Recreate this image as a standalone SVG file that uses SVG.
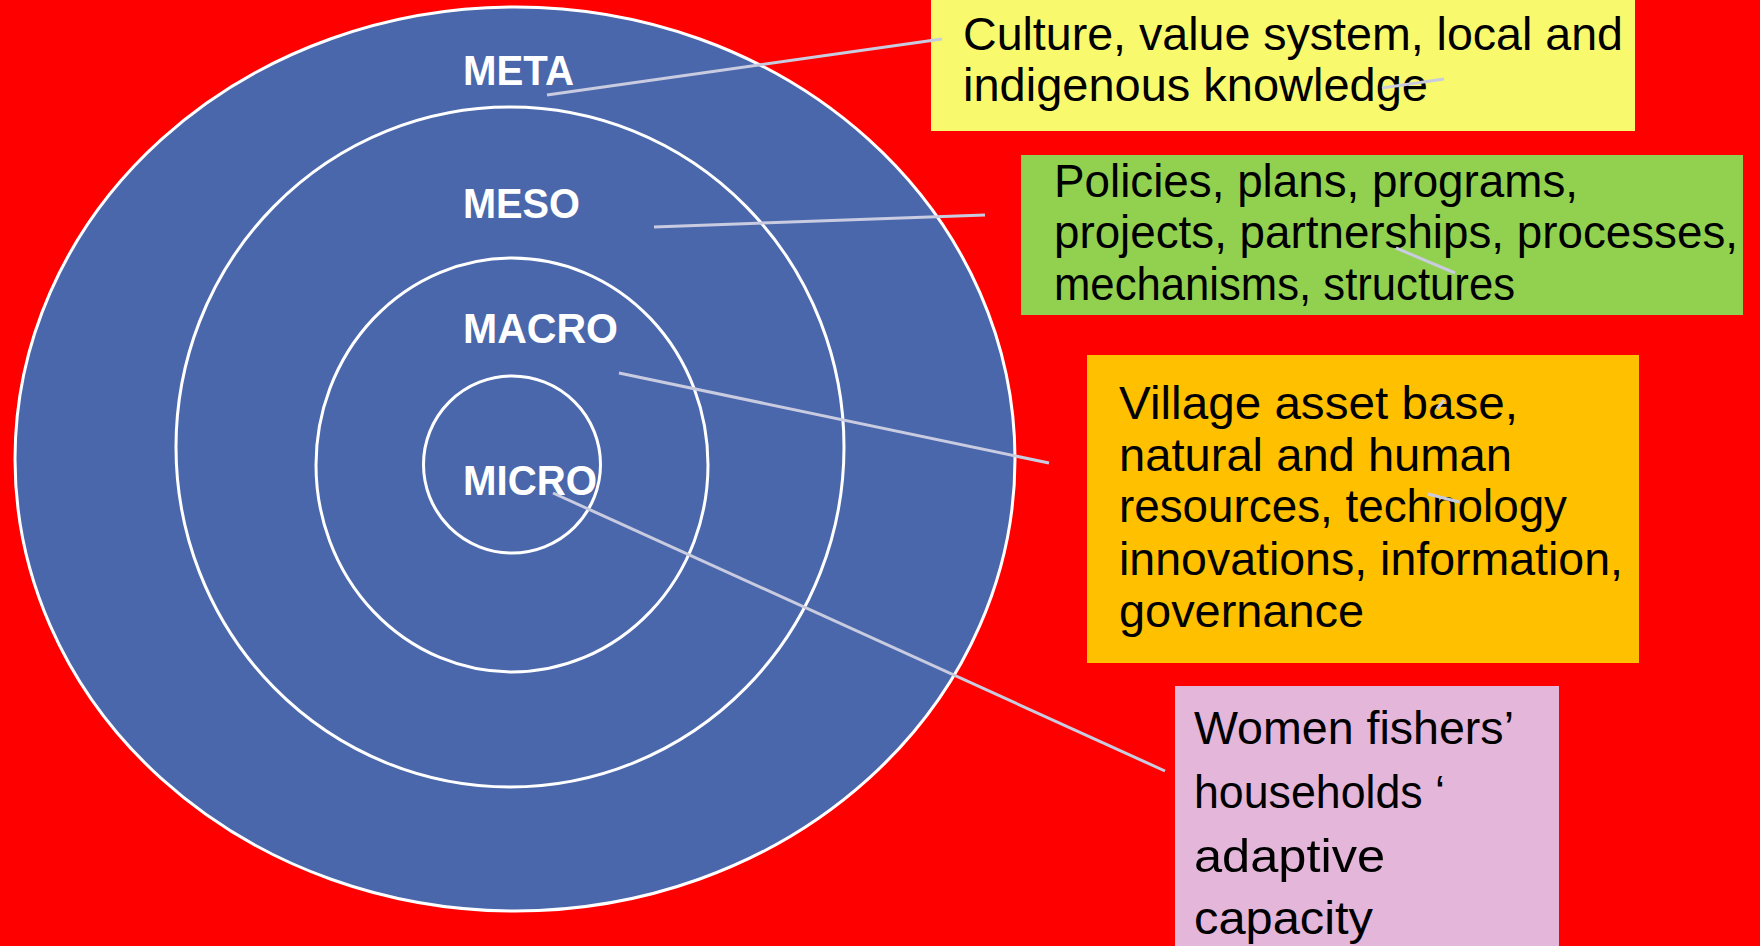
<svg xmlns="http://www.w3.org/2000/svg" width="1760" height="946" viewBox="0 0 1760 946">
<style>
.ring{fill:none;stroke:#ffffff;stroke-width:3}
.lvl{font-family:"Liberation Sans",Arial,sans-serif;font-weight:bold;font-size:43px;fill:#ffffff}
.box{font-family:"Liberation Sans",Arial,sans-serif;font-size:46px;fill:#000000}
.conn{stroke:#c9cce0;stroke-width:3;fill:none}
</style>
<rect x="0" y="0" width="1760" height="946" fill="#ff0000"/>
<g id="rings">
<ellipse cx="515" cy="459" rx="500" ry="452" fill="#4a67ac" stroke="#ffffff" stroke-width="3"/>
<ellipse class="ring" cx="510" cy="447" rx="334" ry="340"/>
<ellipse class="ring" cx="512" cy="465" rx="196" ry="207"/>
<ellipse class="ring" cx="512" cy="464.5" rx="88.5" ry="88.5"/>
</g>
<g id="label-meta"><text class="lvl" x="463" y="85" textLength="111" lengthAdjust="spacingAndGlyphs">META</text></g>
<g id="label-meso"><text class="lvl" x="463" y="218" textLength="117" lengthAdjust="spacingAndGlyphs">MESO</text></g>
<g id="label-macro"><text class="lvl" x="463" y="343" textLength="155" lengthAdjust="spacingAndGlyphs">MACRO</text></g>
<g id="label-micro"><text class="lvl" x="463" y="495" textLength="134" lengthAdjust="spacingAndGlyphs">MICRO</text></g>
<g id="box-culture">
<rect x="931" y="0" width="704" height="131" fill="#f9f96e"/>
<text class="box" x="963" y="50" textLength="660" lengthAdjust="spacingAndGlyphs">Culture, value system, local and</text>
<text class="box" x="963" y="101" textLength="465" lengthAdjust="spacingAndGlyphs">indigenous knowledge</text>
</g>
<g id="box-policies">
<rect x="1021" y="155" width="722" height="160" fill="#92d050"/>
<text class="box" x="1054" y="197" textLength="524" lengthAdjust="spacingAndGlyphs">Policies, plans, programs,</text>
<text class="box" x="1054" y="248" textLength="684" lengthAdjust="spacingAndGlyphs">projects, partnerships, processes,</text>
<text class="box" x="1054" y="300" textLength="461" lengthAdjust="spacingAndGlyphs">mechanisms, structures</text>
</g>
<g id="box-village">
<rect x="1087" y="355" width="552" height="308" fill="#ffc000"/>
<text class="box" x="1119" y="419" textLength="399" lengthAdjust="spacingAndGlyphs">Village asset base,</text>
<text class="box" x="1119" y="471" textLength="393" lengthAdjust="spacingAndGlyphs">natural and human</text>
<text class="box" x="1119" y="522" textLength="448" lengthAdjust="spacingAndGlyphs">resources, technology</text>
<text class="box" x="1119" y="575" textLength="504" lengthAdjust="spacingAndGlyphs">innovations, information,</text>
<text class="box" x="1119" y="627" textLength="245" lengthAdjust="spacingAndGlyphs">governance</text>
</g>
<g id="box-women">
<rect x="1175" y="686" width="384" height="260" fill="#e3b6da"/>
<text class="box" x="1194" y="744" textLength="320" lengthAdjust="spacingAndGlyphs">Women fishers’</text>
<text class="box" x="1194" y="808" textLength="251" lengthAdjust="spacingAndGlyphs">households ‘</text>
<text class="box" x="1194" y="872" textLength="191" lengthAdjust="spacingAndGlyphs">adaptive</text>
<text class="box" x="1194" y="934" textLength="179" lengthAdjust="spacingAndGlyphs">capacity</text>
</g>
<g id="connectors">
<line class="conn" x1="547" y1="95" x2="942" y2="39"/>
<line class="conn" x1="654" y1="227" x2="985" y2="215"/>
<line class="conn" x1="619" y1="373" x2="1049" y2="463"/>
<line class="conn" x1="553" y1="493" x2="1165" y2="771"/>
<line class="conn" x1="1382" y1="88" x2="1444" y2="79"/>
<line class="conn" x1="1396" y1="248" x2="1455" y2="273"/>
<line class="conn" x1="1437" y1="409" x2="1444" y2="400"/>
<line class="conn" x1="1428" y1="494" x2="1459" y2="502"/>
</g>
</svg>
